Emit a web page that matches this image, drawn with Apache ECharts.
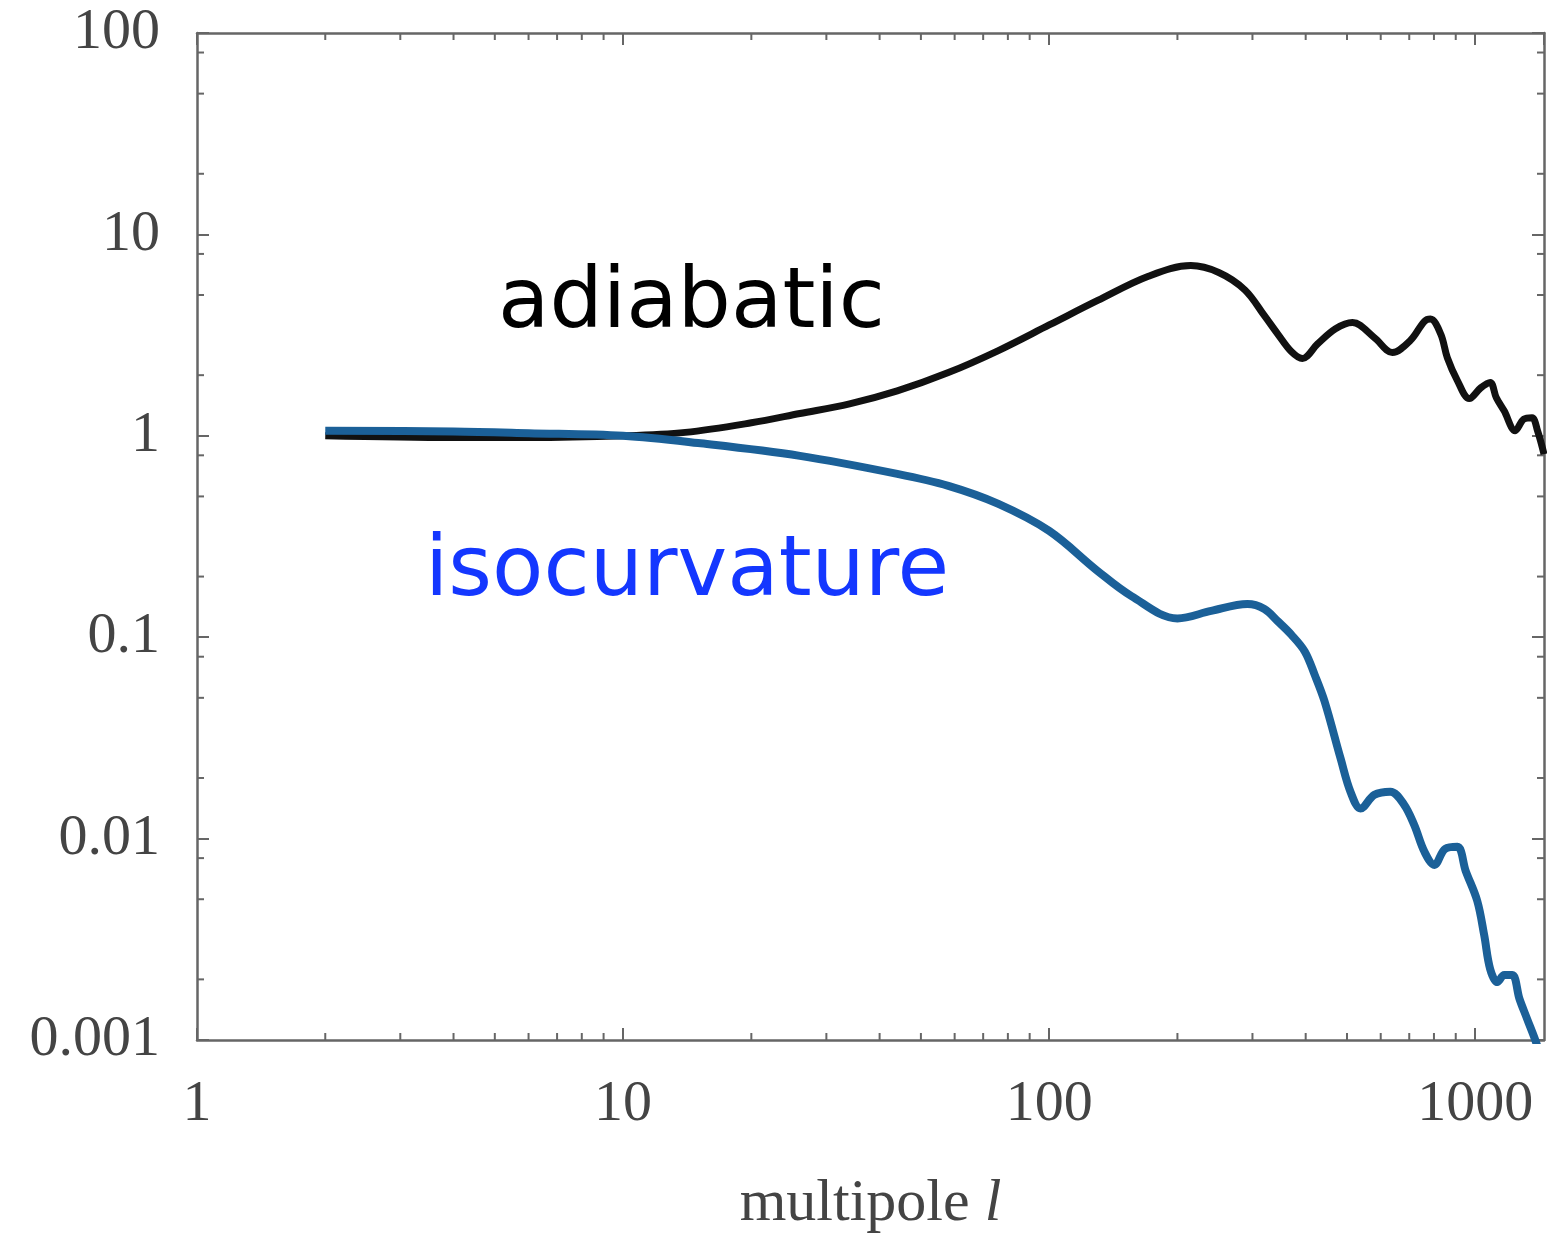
<!DOCTYPE html>
<html>
<head>
<meta charset="utf-8">
<script src="https://cdn.jsdelivr.net/npm/echarts@6/dist/echarts.min.js"></script>
<style>
  html, body { margin: 0; padding: 0; background: #fff; }
  #main { width: 1547px; height: 1234px; }
</style>
</head>
<body>
<div id="main"></div>
<script>
// multipole l values and spectra
const ellAdiabatic = [2, 4, 6, 10, 14, 20, 26, 34, 44, 58, 76, 100, 130, 171, 215, 250, 288, 320, 344, 370, 393, 426, 470, 515, 580, 639, 704, 760, 785, 830, 860, 908, 968, 1030, 1084, 1120, 1169, 1241, 1300, 1359, 1400, 1450];
const adiabatic =    [1.0, 0.98, 0.98, 1.0, 1.04, 1.16, 1.29, 1.44, 1.67, 2.06, 2.65, 3.55, 4.7, 6.2, 7.0, 6.47, 5.3, 3.95, 3.2, 2.62, 2.42, 2.85, 3.4, 3.65, 3.07, 2.59, 2.97, 3.7, 3.8, 3.2, 2.44, 1.88, 1.53, 1.73, 1.84, 1.55, 1.33, 1.06, 1.21, 1.23, 1.06, 0.81];

const ellIso = [2, 4, 6, 10, 15, 26, 44, 58, 76, 100, 130, 156, 200, 240, 292, 320, 344, 370, 398, 420, 443, 483, 510, 538, 580, 632, 680, 719, 760, 802, 850, 908, 950, 1011, 1050, 1084, 1127, 1170, 1222, 1270, 1324, 1397, 1450];
const isocurvature = [1.06, 1.05, 1.03, 1.0, 0.92, 0.795, 0.647, 0.564, 0.459, 0.337, 0.213, 0.16, 0.124, 0.135, 0.146, 0.138, 0.12, 0.103, 0.085, 0.065, 0.048, 0.025, 0.017, 0.0141, 0.0165, 0.0171, 0.0148, 0.0117, 0.0086, 0.0074, 0.0089, 0.0091, 0.0069, 0.0049, 0.0033, 0.00225, 0.00194, 0.0021, 0.0021, 0.0016, 0.00127, 0.00094, 0.0007];

// axis ticks
const xTickValues = [1, 10, 100, 1000];
const xTickLabels = ['1', '10', '100', '1000'];
const yTickValues = [0.001, 0.01, 0.1, 1, 10, 100];
const yTickLabels = ['0.001', '0.01', '0.1', '1', '10', '100'];
const xMinorTicks = [2, 3, 4, 5, 6, 7, 8, 9, 20, 30, 40, 50, 60, 70, 80, 90, 200, 300, 400, 500, 600, 700, 800, 900];
const yMinorTicks = [0.002, 0.005, 0.008, 0.02, 0.05, 0.08, 0.2, 0.5, 0.8, 2, 5, 8, 20, 50, 80];

const axisGray = '#666';
const labelGray = '#444';
const serif = '"Liberation Serif", "DejaVu Serif", serif';

function pickLabel(values, labels) {
  return function (v) {
    const i = values.findIndex(t => Math.abs(Math.log10(v) - Math.log10(t)) < 1e-6);
    return i >= 0 ? labels[i] : '';
  };
}

const chart = echarts.init(document.getElementById('main'), null, {renderer: 'canvas'});

const axisCommon = {
  type: 'log',
  logBase: 10,
  axisLine: {show: true, lineStyle: {color: axisGray, width: 2.5}},
  axisTick: {show: true, inside: true, length: 12, lineStyle: {color: axisGray, width: 2}},
  splitLine: {show: false},
  minorTick: {show: false}
};

const option = {
  animation: false,
  backgroundColor: '#fff',
  grid: {left: 197, right: 3, top: 33, bottom: 194, containLabel: false, outerBoundsMode: 'none'},
  xAxis: [
    Object.assign({}, axisCommon, {
      position: 'bottom',
      min: 1,
      max: 1450,
      name: '{n|multipole }{i|l}',
      nameLocation: 'middle',
      nameGap: 134,
      nameTextStyle: {
        rich: {
          n: {fontFamily: serif, fontSize: 60, color: labelGray},
          i: {fontFamily: serif, fontSize: 60, fontStyle: 'italic', color: labelGray}
        }
      },
      axisLabel: {
        show: true,
        margin: 36,
        fontFamily: serif,
        fontSize: 58,
        color: labelGray,
        showMaxLabel: false,
        formatter: pickLabel(xTickValues, xTickLabels)
      }
    }),
    Object.assign({}, axisCommon, {
      position: 'top',
      min: 1,
      max: 1450,
      axisLabel: {show: false}
    })
  ],
  yAxis: [
    Object.assign({}, axisCommon, {
      position: 'left',
      min: 0.001,
      max: 100,
      axisLabel: {
        show: true,
        margin: 37,
        fontFamily: serif,
        fontSize: 58,
        color: labelGray,
        formatter: pickLabel(yTickValues, yTickLabels)
      }
    }),
    Object.assign({}, axisCommon, {
      position: 'right',
      min: 0.001,
      max: 100,
      axisLabel: {show: false}
    })
  ],
  graphic: [
    {
      type: 'text',
      x: 498,
      y: 305,
      style: {
        text: 'adiabatic',
        font: '84px "DejaVu Sans", sans-serif',
        fill: '#000',
        verticalAlign: 'middle'
      }
    },
    {
      type: 'text',
      x: 425,
      y: 573,
      style: {
        text: 'isocurvature',
        font: '84px "DejaVu Sans", sans-serif',
        fill: '#1437ff',
        verticalAlign: 'middle'
      }
    }
  ],
  series: [
    {
      // minor ticks along bottom and top
      type: 'custom',
      xAxisIndex: 0,
      yAxisIndex: 0,
      silent: true,
      clip: false,
      data: xMinorTicks.map(v => [v, 1]),
      renderItem: function (params, api) {
        const cs = params.coordSys;
        const px = api.coord([api.value(0), 1])[0];
        const style = {stroke: axisGray, lineWidth: 2};
        return {
          type: 'group',
          children: [
            {type: 'line', shape: {x1: px, y1: cs.y + cs.height, x2: px, y2: cs.y + cs.height - 7}, style: style},
            {type: 'line', shape: {x1: px, y1: cs.y, x2: px, y2: cs.y + 7}, style: style}
          ]
        };
      }
    },
    {
      // minor ticks along left and right
      type: 'custom',
      xAxisIndex: 0,
      yAxisIndex: 0,
      silent: true,
      clip: false,
      data: yMinorTicks.map(v => [1, v]),
      renderItem: function (params, api) {
        const cs = params.coordSys;
        const py = api.coord([1, api.value(1)])[1];
        const style = {stroke: axisGray, lineWidth: 2};
        return {
          type: 'group',
          children: [
            {type: 'line', shape: {x1: cs.x, y1: py, x2: cs.x + 7, y2: py}, style: style},
            {type: 'line', shape: {x1: cs.x + cs.width, y1: py, x2: cs.x + cs.width - 7, y2: py}, style: style}
          ]
        };
      }
    },
    {
      name: 'adiabatic',
      type: 'line',
      showSymbol: false,
      smooth: 0.35,
      lineStyle: {color: '#111', width: 7},
      data: ellAdiabatic.map((l, i) => [l, adiabatic[i]]),
      z: 3
    },
    {
      name: 'isocurvature',
      type: 'line',
      showSymbol: false,
      smooth: 0.35,
      lineStyle: {color: '#1b6098', width: 8},
      data: ellIso.map((l, i) => [l, isocurvature[i]]),
      z: 4
    }
  ]
};

chart.setOption(option);
</script>
</body>
</html>
